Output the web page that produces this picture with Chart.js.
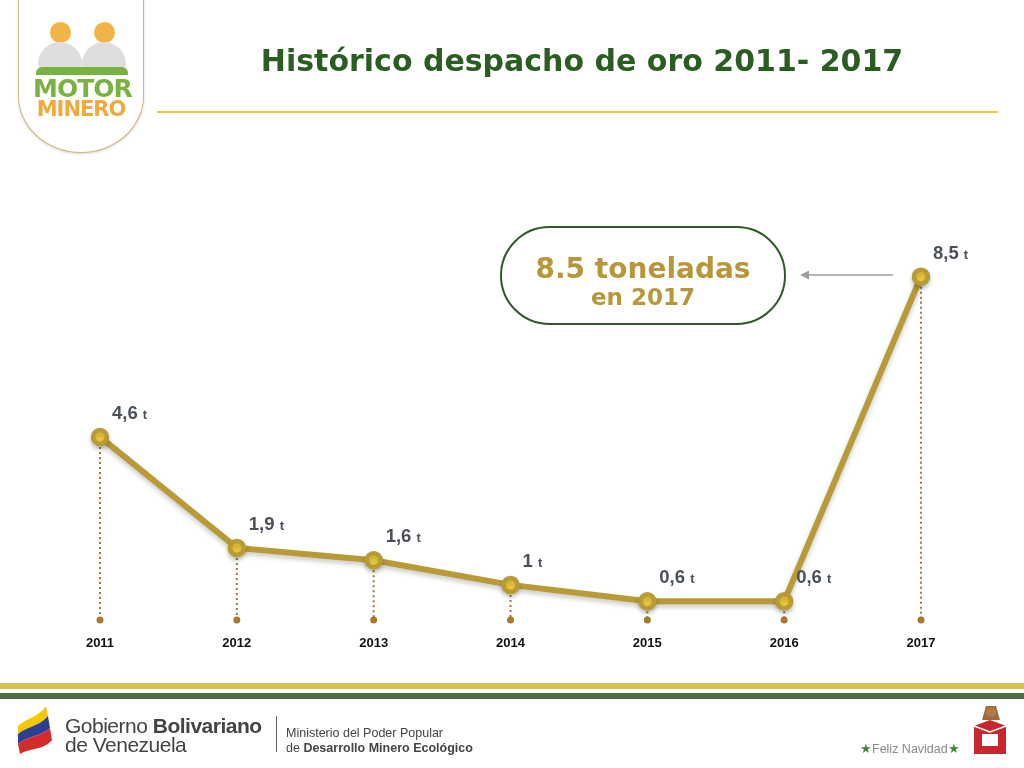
<!DOCTYPE html>
<html>
<head>
<meta charset="utf-8">
<title>Histórico despacho de oro 2011- 2017</title>
<script src="https://cdn.jsdelivr.net/npm/chart.js@4.4.1/dist/chart.umd.min.js"></script>
<style>
html, body { margin: 0; padding: 0; background: #fff; }
#page { position: relative; width: 1024px; height: 768px; overflow: hidden; font-family: "Liberation Sans", Arial, sans-serif; }
#result { position: absolute; left: 0; top: 0; }
.abs { position: absolute; }
#title { left: 232px; top: 43px; width: 700px; text-align: center; font: bold 30px "DejaVu Sans", sans-serif; color: #2b5d23; white-space: nowrap; }
#rule { left: 157px; top: 111px; width: 841px; height: 2px; background: #e8c84a; }
#shield { left: 18px; top: -6px; width: 124px; height: 158px; border: 1.5px solid #cdb679; border-top: none; border-radius: 0 0 64px 64px / 0 0 58px 58px; background: #fff; box-shadow: 0 1px 3px rgba(0,0,0,0.15); }
.head { width: 21px; height: 21px; border-radius: 50%; background: #f1b446; top: 22px; }
.body { width: 44px; height: 26px; border-radius: 22px 22px 4px 4px; background: #dedede; top: 42px; }
#motor { left: 33px; top: 77px; width: 96px; text-align: center; font: bold 25px "DejaVu Sans", sans-serif; color: #7ab241; letter-spacing: -1px; line-height: 24px; }
#minero { left: 33px; top: 98px; width: 96px; text-align: center; font: bold 21px "DejaVu Sans", sans-serif; color: #f0aa3c; letter-spacing: -1px; line-height: 22px; }
#leaf { left: 36px; top: 67px; width: 92px; height: 8px; background: #7ab241; border-radius: 6px 6px 0 0; }
#callout { left: 500px; top: 226px; width: 286px; height: 99px; border: 2px solid #2d5a26; border-radius: 50px; box-sizing: border-box; text-align: center; color: #b8973a; font-family: "DejaVu Sans", sans-serif; font-weight: bold; background: #fff; }
#callout .big { font-size: 28px; line-height: 30px; margin-top: 26px; }
#callout .small { font-size: 23px; line-height: 24px; margin-top: 1px; }
#stripeY { left: 0; top: 683px; width: 1024px; height: 6px; background: #d8c152; }
#stripeG { left: 0; top: 693px; width: 1024px; height: 6px; background: #4b6b45; }
#gob1 { left: 65px; top: 715px; font-size: 21px; color: #444; line-height: 22px; white-space: nowrap; letter-spacing: -0.5px; }
#gob2 { left: 65px; top: 734px; font-size: 21px; color: #444; line-height: 22px; white-space: nowrap; letter-spacing: -0.5px; }
#sep { left: 276px; top: 716px; width: 1px; height: 36px; background: #666; }
#min1 { left: 286px; top: 726px; font-size: 12.5px; color: #444; white-space: nowrap; }
#min2 { left: 286px; top: 741px; font-size: 12.5px; color: #444; white-space: nowrap; }
#navidad { left: 860px; top: 741px; font-size: 12.5px; color: #8a8a8a; white-space: nowrap; }
#navidad span { color: #3a8a3a; }
</style>
</head>
<body>
<div id="page">
  <canvas id="result" width="1024" height="768"></canvas>

  <div id="shield" class="abs"></div>
  <div class="abs head" style="left:50px"></div>
  <div class="abs head" style="left:94px"></div>
  <div class="abs body" style="left:38px"></div>
  <div class="abs body" style="left:82px"></div>
  <div id="leaf" class="abs"></div>
  <div id="motor" class="abs">MOTOR</div>
  <div id="minero" class="abs">MINERO</div>

  <div id="title" class="abs">Histórico despacho de oro 2011- 2017</div>
  <div id="rule" class="abs"></div>

  <div id="callout" class="abs">
    <div class="big">8.5 toneladas</div>
    <div class="small">en 2017</div>
  </div>
  <svg class="abs" style="left:795px;top:268px" width="105" height="14">
    <line x1="8" y1="7" x2="98" y2="7" stroke="#9d9d9d" stroke-width="1.6"/>
    <path d="M5 7 L14 2.5 L14 11.5 Z" fill="#9d9d9d"/>
  </svg>

  <div id="stripeY" class="abs"></div>
  <div id="stripeG" class="abs"></div>

  <svg class="abs" style="left:16px;top:704px" width="50" height="52">
    <path d="M30 2 C22 14 10 14 2 22 L2 30 C12 22 24 22 32 12 Z" fill="#f5c900"/>
    <path d="M2 30 C12 22 24 22 32 12 L34 24 C26 32 12 32 2 40 Z" fill="#2d3f93"/>
    <path d="M2 40 C12 32 26 32 34 24 L36 36 C28 46 14 44 4 50 Z" fill="#d42b2b"/>
  </svg>
  <div id="gob1" class="abs">Gobierno <b>Bolivariano</b></div>
  <div id="gob2" class="abs">de Venezuela</div>
  <div id="sep" class="abs"></div>
  <div id="min1" class="abs">Ministerio del Poder Popular</div>
  <div id="min2" class="abs">de <b>Desarrollo Minero Ecológico</b></div>
  <div id="navidad" class="abs"><span>★</span>Feliz Navidad<span>★</span></div>
  <svg class="abs" style="left:966px;top:702px" width="46" height="56">
    <path d="M20 4 L30 4 L34 18 L16 18 Z" fill="#9a6b3c"/>
    <circle cx="25" cy="10" r="5" fill="#b07a48"/>
    <path d="M8 24 L24 18 L40 24 L40 52 L8 52 Z" fill="#c8262c"/>
    <rect x="16" y="32" width="16" height="12" fill="#fff"/>
    <path d="M8 24 L24 30 L40 24" fill="none" stroke="#fff" stroke-width="1.5"/>
  </svg>
</div>

<script>
var years = ["2011", "2012", "2013", "2014", "2015", "2016", "2017"];
var tons = [4.6, 1.9, 1.6, 1.0, 0.6, 0.6, 8.5];
var yTicks = [0, 10];

var ctx = document.getElementById("result").getContext("2d");

// dotted drop lines from every point to a small dot on the axis
var dropLines = {
    id: "dropLines",
    beforeDatasetsDraw: function(chart) {
        var c = chart.ctx;
        var meta = chart.getDatasetMeta(0);
        var base = chart.chartArea.bottom - 6;
        c.save();
        meta.data.forEach(function(pt) {
            c.strokeStyle = "#a07a3a";
            c.lineWidth = 2;
            c.setLineDash([2, 3]);
            c.beginPath();
            c.moveTo(pt.x, pt.y);
            c.lineTo(pt.x, base);
            c.stroke();
            c.setLineDash([]);
            c.fillStyle = "#a57a30";
            c.beginPath();
            c.arc(pt.x, base, 3.5, 0, Math.PI * 2);
            c.fill();
        });
        c.restore();
    },
    beforeDatasetDraw: function(chart) {
        chart.ctx.save();
        chart.ctx.shadowColor = "rgba(0,0,0,0.22)";
        chart.ctx.shadowBlur = 5;
        chart.ctx.shadowOffsetY = 3;
    },
    afterDatasetDraw: function(chart) {
        chart.ctx.restore();
    },
    // value labels like "4,6 t"
    afterDatasetsDraw: function(chart) {
        var c = chart.ctx;
        var meta = chart.getDatasetMeta(0);
        c.save();
        c.fillStyle = "#4c5159";
        c.textBaseline = "alphabetic";
        c.textAlign = "left";
        meta.data.forEach(function(pt, i) {
            var txt = String(tons[i]).replace(".", ",");
            var x = pt.x + 12;
            var y = pt.y - 18;
            c.font = "bold 18.5px 'Liberation Sans', Arial, sans-serif";
            c.fillText(txt, x, y);
            var w = c.measureText(txt + " ").width;
            c.font = "bold 13px 'Liberation Sans', Arial, sans-serif";
            c.fillText("t", x + w, y);
        });
        c.restore();
    }
};

var chart = new Chart(ctx, {
    type: "line",
    data: {
        labels: years,
        datasets: [{
            label: "Toneladas",
            data: tons,
            borderColor: "#b89a36",
            borderWidth: 6,
            pointRadius: 7,
            pointBorderWidth: 4.5,
            pointBackgroundColor: "#f2d13e",
            pointBorderColor: "#b89a36",
            tension: 0,
            clip: false
        }]
    },
    options: {
        responsive: false,
        animation: false,
        events: [],
        layout: {
            padding: { left: 100, right: 103, top: 215, bottom: 112 }
        },
        plugins: {
            legend: { display: false },
            tooltip: { enabled: false }
        },
        scales: {
            x: {
                offset: false,
                grid: { display: false, drawTicks: false },
                border: { display: false },
                ticks: {
                    color: "#111",
                    padding: 10,
                    font: { family: "'Liberation Sans', Arial, sans-serif", size: 13, weight: "bold" },
                    maxRotation: 0
                },
                afterFit: function(scale) { scale.height = 30; }
            },
            y: {
                display: false,
                min: yTicks[0],
                max: yTicks[1]
            }
        }
    },
    plugins: [dropLines]
});
</script>
</body>
</html>
